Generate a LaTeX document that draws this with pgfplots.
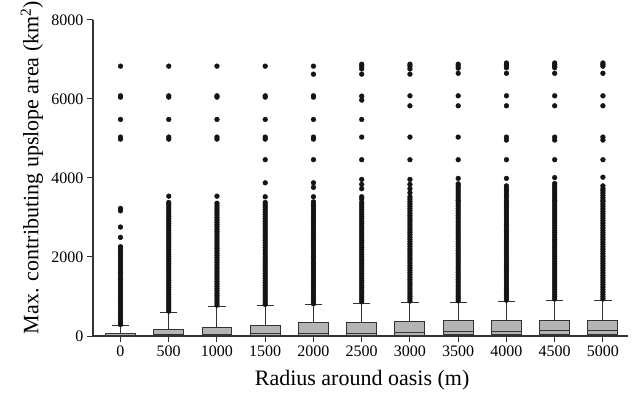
\documentclass[border=0pt]{standalone}
\usepackage{fontspec}
\setmainfont{Liberation Serif}
\usepackage{pgfplots}
\pgfplotsset{compat=1.18}
\usepgfplotslibrary{statistics}
\definecolor{boxfill}{HTML}{B4B4B4}
\definecolor{lin}{HTML}{333333}
\pgfplotsset{
  bx/.style={draw=lin, line width=1pt, fill=boxfill, solid, boxplot/draw direction=y},
  ol/.style={only marks, mark=*, mark size=2.4pt, mark options={draw=black!92, fill=black!92}},
}
\begin{document}
\begin{tikzpicture}
\path[use as bounding box] (0,0) rectangle (637pt,392pt);
\begin{axis}[
  at={(93pt,56pt)}, anchor=south west,
  scale only axis, width=535pt, height=316pt,
  disabledatascaling,
  xmin=-0.57, xmax=10.52, ymin=0, ymax=8000,
  axis x line*=bottom, axis y line*=left,
  axis line style={-, draw=lin, line width=1.3pt},
  xtick={0,...,10},
  xticklabels={0,500,1000,1500,2000,2500,3000,3500,4000,4500,5000},
  ytick={0,2000,4000,6000,8000},
  tick align=outside, major tick length=6pt,
  tick style={draw=lin, line width=1pt},
  x tick label style={font=\fontsize{16}{16}\selectfont},
  y tick label style={font=\fontsize{16}{16}\selectfont},
  /pgf/number format/assume math mode=true,
  /pgf/number format/1000 sep={},
  scaled y ticks=false,
  xlabel={Radius around oasis (m)},
  ylabel={Max. contributing upslope area (km\textsuperscript{2})},
  xlabel style={at={(axis description cs:0.503,-0.158)}, anchor=base, font=\fontsize{22}{22}\selectfont},
  ylabel style={at={(axis description cs:-0.114,0.533)}, anchor=center, font=\fontsize{22}{22}\selectfont},
  clip=false,
]
% boxes
\addplot[bx, boxplot prepared={draw position=0, lower whisker=0, lower quartile=8, median=22, upper quartile=68, upper whisker=260, box extend=0.62, whisker extend=0.36}] coordinates {};
\addplot[bx, boxplot prepared={draw position=1, lower whisker=0, lower quartile=12, median=30, upper quartile=160, upper whisker=600, box extend=0.62, whisker extend=0.36}] coordinates {};
\addplot[bx, boxplot prepared={draw position=2, lower whisker=0, lower quartile=15, median=40, upper quartile=225, upper whisker=750, box extend=0.62, whisker extend=0.36}] coordinates {};
\addplot[bx, boxplot prepared={draw position=3, lower whisker=0, lower quartile=18, median=55, upper quartile=278, upper whisker=772, box extend=0.62, whisker extend=0.36}] coordinates {};
\addplot[bx, boxplot prepared={draw position=4, lower whisker=0, lower quartile=20, median=60, upper quartile=337, upper whisker=785, box extend=0.62, whisker extend=0.36}] coordinates {};
\addplot[bx, boxplot prepared={draw position=5, lower whisker=0, lower quartile=22, median=70, upper quartile=342, upper whisker=835, box extend=0.62, whisker extend=0.36}] coordinates {};
\addplot[bx, boxplot prepared={draw position=6, lower whisker=0, lower quartile=25, median=85, upper quartile=363, upper whisker=856, box extend=0.62, whisker extend=0.36}] coordinates {};
\addplot[bx, boxplot prepared={draw position=7, lower whisker=0, lower quartile=30, median=110, upper quartile=380, upper whisker=860, box extend=0.62, whisker extend=0.36}] coordinates {};
\addplot[bx, boxplot prepared={draw position=8, lower whisker=0, lower quartile=30, median=105, upper quartile=382, upper whisker=877, box extend=0.62, whisker extend=0.36}] coordinates {};
\addplot[bx, boxplot prepared={draw position=9, lower whisker=0, lower quartile=35, median=130, upper quartile=395, upper whisker=906, box extend=0.62, whisker extend=0.36}] coordinates {};
\addplot[bx, boxplot prepared={draw position=10, lower whisker=0, lower quartile=35, median=140, upper quartile=405, upper whisker=908, box extend=0.62, whisker extend=0.36}] coordinates {};
% outliers
\addplot[ol] coordinates {(0,290)(0,350)(0,410)(0,470)(0,530)(0,590)(0,650)(0,710)(0,770)(0,830)(0,890)(0,950)(0,1010)(0,1070)(0,1130)(0,1190)(0,1250)(0,1310)(0,1370)(0,1430)(0,1490)(0,1550)(0,1610)(0,1670)(0,1730)(0,1790)(0,1850)(0,1910)(0,1970)(0,2030)(0,2090)(0,2150)(0,2210)(0,2260)(0,2497)(0,2758)(0,3170)(0,3230)(0,4984)(0,5035)(0,5482)(0,6047)(0,6080)(0,6831)};
\addplot[ol] coordinates {(1,630)(1,690)(1,750)(1,810)(1,870)(1,930)(1,990)(1,1050)(1,1110)(1,1170)(1,1230)(1,1290)(1,1350)(1,1410)(1,1470)(1,1530)(1,1590)(1,1650)(1,1710)(1,1770)(1,1830)(1,1890)(1,1950)(1,2010)(1,2070)(1,2130)(1,2190)(1,2250)(1,2310)(1,2370)(1,2430)(1,2490)(1,2550)(1,2610)(1,2670)(1,2730)(1,2790)(1,2850)(1,2910)(1,2970)(1,3030)(1,3090)(1,3150)(1,3210)(1,3270)(1,3330)(1,3380)(1,3540)(1,4984)(1,5035)(1,5482)(1,6047)(1,6080)(1,6831)};
\addplot[ol] coordinates {(2,780)(2,840)(2,900)(2,960)(2,1020)(2,1080)(2,1140)(2,1200)(2,1260)(2,1320)(2,1380)(2,1440)(2,1500)(2,1560)(2,1620)(2,1680)(2,1740)(2,1800)(2,1860)(2,1920)(2,1980)(2,2040)(2,2100)(2,2160)(2,2220)(2,2280)(2,2340)(2,2400)(2,2460)(2,2520)(2,2580)(2,2640)(2,2700)(2,2760)(2,2820)(2,2880)(2,2940)(2,3000)(2,3060)(2,3120)(2,3180)(2,3240)(2,3300)(2,3360)(2,3540)(2,4984)(2,5035)(2,5482)(2,6047)(2,6080)(2,6831)};
\addplot[ol] coordinates {(3,800)(3,860)(3,920)(3,980)(3,1040)(3,1100)(3,1160)(3,1220)(3,1280)(3,1340)(3,1400)(3,1460)(3,1520)(3,1580)(3,1640)(3,1700)(3,1760)(3,1820)(3,1880)(3,1940)(3,2000)(3,2060)(3,2120)(3,2180)(3,2240)(3,2300)(3,2360)(3,2420)(3,2480)(3,2540)(3,2600)(3,2660)(3,2720)(3,2780)(3,2840)(3,2900)(3,2960)(3,3020)(3,3080)(3,3140)(3,3200)(3,3260)(3,3320)(3,3380)(3,3525)(3,3878)(3,4463)(3,4984)(3,5035)(3,5482)(3,6047)(3,6080)(3,6831)};
\addplot[ol] coordinates {(4,815)(4,875)(4,935)(4,995)(4,1055)(4,1115)(4,1175)(4,1235)(4,1295)(4,1355)(4,1415)(4,1475)(4,1535)(4,1595)(4,1655)(4,1715)(4,1775)(4,1835)(4,1895)(4,1955)(4,2015)(4,2075)(4,2135)(4,2195)(4,2255)(4,2315)(4,2375)(4,2435)(4,2495)(4,2555)(4,2615)(4,2675)(4,2735)(4,2795)(4,2855)(4,2915)(4,2975)(4,3035)(4,3095)(4,3155)(4,3215)(4,3275)(4,3335)(4,3395)(4,3525)(4,3762)(4,3878)(4,4463)(4,4984)(4,5035)(4,5482)(4,6047)(4,6080)(4,6628)(4,6831)};
\addplot[ol] coordinates {(5,865)(5,925)(5,985)(5,1045)(5,1105)(5,1165)(5,1225)(5,1285)(5,1345)(5,1405)(5,1465)(5,1525)(5,1585)(5,1645)(5,1705)(5,1765)(5,1825)(5,1885)(5,1945)(5,2005)(5,2065)(5,2125)(5,2185)(5,2245)(5,2305)(5,2365)(5,2425)(5,2485)(5,2545)(5,2605)(5,2665)(5,2725)(5,2785)(5,2845)(5,2905)(5,2965)(5,3025)(5,3085)(5,3145)(5,3205)(5,3265)(5,3325)(5,3385)(5,3470)(5,3525)(5,3728)(5,3838)(5,3964)(5,4463)(5,5035)(5,5482)(5,5971)(5,6072)(5,6628)(5,6760)(5,6830)(5,6880)};
\addplot[ol] coordinates {(6,886)(6,946)(6,1006)(6,1066)(6,1126)(6,1186)(6,1246)(6,1306)(6,1366)(6,1426)(6,1486)(6,1546)(6,1606)(6,1666)(6,1726)(6,1786)(6,1846)(6,1906)(6,1966)(6,2026)(6,2086)(6,2146)(6,2206)(6,2266)(6,2326)(6,2386)(6,2446)(6,2506)(6,2566)(6,2626)(6,2686)(6,2746)(6,2806)(6,2866)(6,2926)(6,2986)(6,3046)(6,3106)(6,3166)(6,3226)(6,3286)(6,3346)(6,3406)(6,3470)(6,3525)(6,3626)(6,3728)(6,3838)(6,3964)(6,4463)(6,5035)(6,5827)(6,6080)(6,6628)(6,6760)(6,6830)(6,6880)};
\addplot[ol] coordinates {(7,890)(7,950)(7,1010)(7,1070)(7,1130)(7,1190)(7,1250)(7,1310)(7,1370)(7,1430)(7,1490)(7,1550)(7,1610)(7,1670)(7,1730)(7,1790)(7,1850)(7,1910)(7,1970)(7,2030)(7,2090)(7,2150)(7,2210)(7,2270)(7,2330)(7,2390)(7,2450)(7,2510)(7,2570)(7,2630)(7,2690)(7,2750)(7,2810)(7,2870)(7,2930)(7,2990)(7,3050)(7,3110)(7,3170)(7,3230)(7,3290)(7,3350)(7,3410)(7,3440)(7,3500)(7,3560)(7,3620)(7,3680)(7,3740)(7,3800)(7,3850)(7,3990)(7,4463)(7,5035)(7,5827)(7,6080)(7,6650)(7,6780)(7,6840)(7,6880)};
\addplot[ol] coordinates {(8,907)(8,967)(8,1027)(8,1087)(8,1147)(8,1207)(8,1267)(8,1327)(8,1387)(8,1447)(8,1507)(8,1567)(8,1627)(8,1687)(8,1747)(8,1807)(8,1867)(8,1927)(8,1987)(8,2047)(8,2107)(8,2167)(8,2227)(8,2287)(8,2347)(8,2407)(8,2467)(8,2527)(8,2587)(8,2647)(8,2707)(8,2767)(8,2827)(8,2887)(8,2947)(8,3007)(8,3067)(8,3127)(8,3187)(8,3247)(8,3307)(8,3367)(8,3427)(8,3500)(8,3560)(8,3620)(8,3680)(8,3740)(8,3800)(8,3990)(8,4463)(8,4960)(8,5035)(8,5827)(8,6080)(8,6650)(8,6790)(8,6830)(8,6870)(8,6910)};
\addplot[ol] coordinates {(9,936)(9,996)(9,1056)(9,1116)(9,1176)(9,1236)(9,1296)(9,1356)(9,1416)(9,1476)(9,1536)(9,1596)(9,1656)(9,1716)(9,1776)(9,1836)(9,1896)(9,1956)(9,2016)(9,2076)(9,2136)(9,2196)(9,2256)(9,2316)(9,2376)(9,2436)(9,2496)(9,2556)(9,2616)(9,2676)(9,2736)(9,2796)(9,2856)(9,2916)(9,2976)(9,3036)(9,3096)(9,3156)(9,3216)(9,3276)(9,3336)(9,3396)(9,3440)(9,3500)(9,3560)(9,3620)(9,3680)(9,3740)(9,3800)(9,3860)(9,4010)(9,4463)(9,4960)(9,5035)(9,5827)(9,6080)(9,6650)(9,6790)(9,6830)(9,6870)(9,6910)};
\addplot[ol] coordinates {(10,938)(10,998)(10,1058)(10,1118)(10,1178)(10,1238)(10,1298)(10,1358)(10,1418)(10,1478)(10,1538)(10,1598)(10,1658)(10,1718)(10,1778)(10,1838)(10,1898)(10,1958)(10,2018)(10,2078)(10,2138)(10,2198)(10,2258)(10,2318)(10,2378)(10,2438)(10,2498)(10,2558)(10,2618)(10,2678)(10,2738)(10,2798)(10,2858)(10,2918)(10,2978)(10,3038)(10,3098)(10,3158)(10,3218)(10,3278)(10,3338)(10,3398)(10,3440)(10,3500)(10,3560)(10,3620)(10,3680)(10,3728)(10,3800)(10,4020)(10,4463)(10,4960)(10,5035)(10,5827)(10,6080)(10,6650)(10,6830)(10,6870)(10,6910)};
\end{axis}
\end{tikzpicture}
\end{document}
